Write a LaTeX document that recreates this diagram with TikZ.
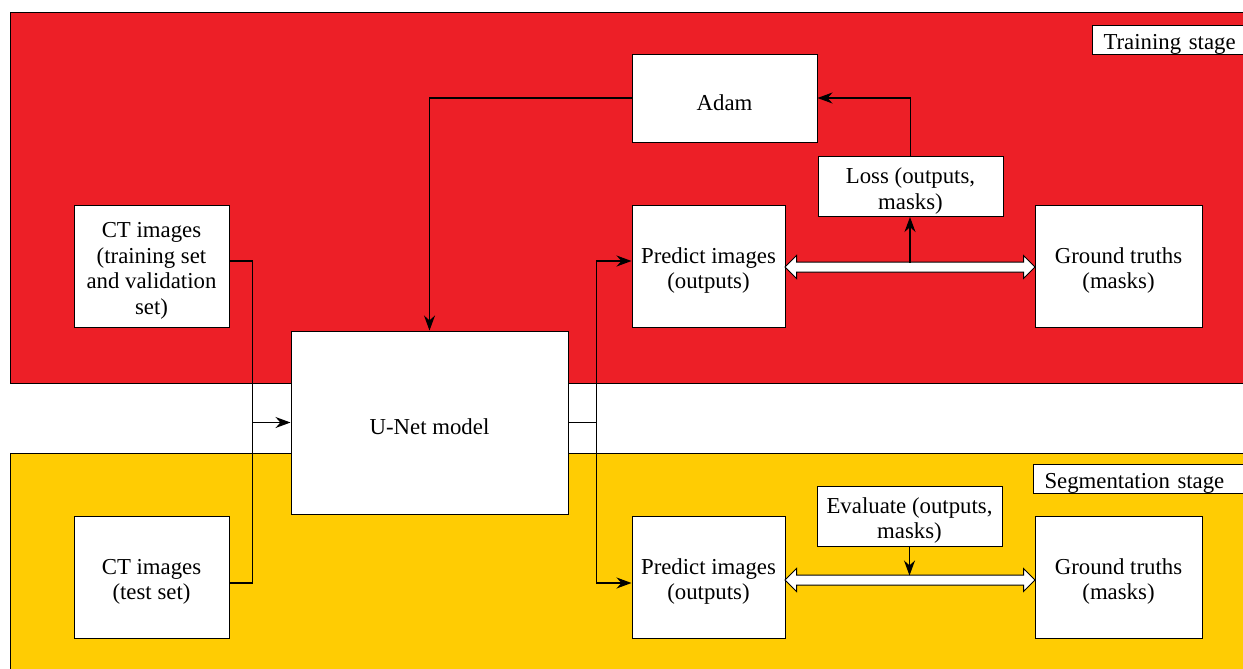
\documentclass[tikz,border=0pt]{standalone}
\usepackage{fontspec}
\setmainfont{Liberation Serif}
\usepackage{tikz}
\usetikzlibrary{
	arrows.meta,
	calc,
	positioning,
	shapes.arrows
}
\definecolor{TrainRed}{RGB}{237, 31, 39}
\definecolor{SegYellow}{RGB}{255, 204, 3}
\newcommand{\topgap}{\rule{0pt}{12.5pt}}
\tikzset{
	block/.style={draw=black, line width=0.5pt, fill=white, align=center, inner sep=1pt,
		font=\fontsize{11.4}{12.7}\selectfont, execute at begin node={\rule{0pt}{12.5pt}}},
	stagebox/.style={draw=black, line width=0.5pt, fill=white, anchor=west, inner xsep=5.5pt,
		inner ysep=0pt, text width=100pt, align=left, minimum height=14.5pt,
		font=\fontsize{11.4}{12.7}\selectfont, execute at begin node={\rule{0pt}{12pt}}},
	conn/.style={line width=0.6pt, -{Stealth[length=7.5pt, width=5.5pt]}},
	wire/.style={line width=0.6pt},
	dblarrow/.style={double arrow, draw=black, line width=0.5pt, fill=white, inner xsep=0pt,
		inner ysep=2.25pt, double arrow head extend=3.25pt, minimum height=125pt}
}

\begin{document}
\begin{tikzpicture}[x=0.5pt, y=-0.5pt]
		\useasboundingbox (0,0) rectangle (1243,669);
		\clip (0,0) rectangle (1243,669);
		% stage backgrounds
		\draw[fill=TrainRed, line width=0.5pt] (10,12) rectangle (1300,383);
		\draw[fill=SegYellow, line width=0.5pt] (10,453) rectangle (1300,720);
		\node[stagebox] (trainlbl) at (1092,39.5) {Training stage};
		\node[stagebox] (seglbl) at (1033,478.5) {Segmentation stage};
		% blocks
		\node[block, minimum width=92.5pt, minimum height=44pt] (adam) at (724.5,98) {Adam};
		\node[block, minimum width=92.5pt, minimum height=30pt] (loss) at (910.5,186.5) {\topgap Loss (outputs,\\masks)};
		\node[block, minimum width=77.5pt, minimum height=61pt] (cttrain) at (151.5,266) {\topgap CT images\\(training set\\and validation\\set)};
		\node[block, minimum width=76.5pt, minimum height=61pt] (predA) at (708.5,266) {\topgap Predict images\\(outputs)};
		\node[block, minimum width=83.5pt, minimum height=61pt] (gtA) at (1118.5,266) {\topgap Ground truths\\(masks)};
		\node[block, minimum width=138.5pt, minimum height=91.5pt] (unet) at (429.5,422.5) {U-Net model};
		\node[block, minimum width=77.5pt, minimum height=61pt] (cttest) at (151.5,577) {\topgap CT images\\(test set)};
		\node[block, minimum width=92.5pt, minimum height=30pt] (eval) at (909.5,516) {\topgap Evaluate (outputs,\\masks)};
		\node[block, minimum width=76.5pt, minimum height=61pt] (predB) at (708.5,577) {\topgap Predict images\\(outputs)};
		\node[block, minimum width=83.5pt, minimum height=61pt] (gtB) at (1118.5,577) {\topgap Ground truths\\(masks)};
		% comparison arrows
		\node[dblarrow] (dA) at (910,267) {};
		\node[dblarrow] (dB) at (910,580) {};
		\coordinate (lossfoot) at ([yshift=2.25pt]dA.center);
		\coordinate (evalfoot) at ([yshift=2.25pt]dB.center);
		% connectors
		\coordinate (merge) at ([xshift=-19pt]unet.west);
		\coordinate (split) at ([xshift=14pt]unet.east);
		\draw[wire] ([yshift=2.5pt]cttrain.east) -| (merge);
		\draw[wire] ([yshift=-3pt]cttest.east) -| (merge);
		\draw[conn] (merge) -- (unet.west);
		\draw[wire] (unet.east) -- (split);
		\draw[conn] (split) |- ([yshift=2.5pt]predA.west);
		\draw[conn] (split) |- ([yshift=-3pt]predB.west);
		\draw[conn] (lossfoot) -- (lossfoot |- loss.south);
		\draw[conn] (loss.north) |- (adam.east);
		\draw[conn] (adam.west) -| (unet.north);
		\draw[conn] (eval.south) -- (eval.south |- evalfoot);
	\end{tikzpicture}
\end{document}
